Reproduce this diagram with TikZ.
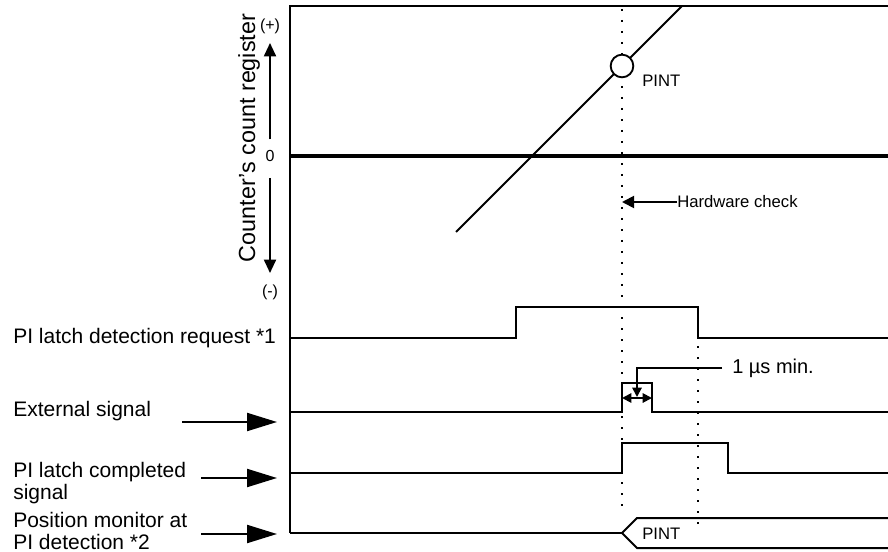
\documentclass[tikz,border=0pt]{standalone}
\usepackage{fontspec}
\setmainfont{Liberation Sans}
\usepackage{tikz}
\usetikzlibrary{arrows.meta}
\usetikzlibrary{positioning}
\newcommand{\lblfont}{\fontsize{15.75}{16.5}\selectfont}
\newcommand{\cntfont}{\fontsize{17.5}{19}\selectfont}
\newcommand{\midfont}{\fontsize{12.5}{14}\selectfont}
\newcommand{\smlfont}{\fontsize{12}{13}\selectfont}
\newcommand{\usfont}{\fontsize{15}{17}\selectfont}

\begin{document}
\begin{tikzpicture}[x=0.75pt,y=-0.75pt,
    sig/.style={line width=1.5pt},
    dotline/.style={line width=2pt,dash pattern=on 1.8pt off 6.45pt},
    lbl/.style={inner sep=0pt,font=\lblfont},
    tag/.style={inner sep=0pt,font=\midfont},
    bigarrow/.style={line width=1.6pt,-{Triangle[length=22.5pt,width=13.5pt]}},
    axarrow/.style={line width=1.4pt,-{Triangle[length=10pt,width=9pt]}},
    smarrow/.style={line width=1.4pt,-{Triangle[length=7pt,width=7pt]}}]
  \useasboundingbox (0,0) rectangle (888,552);
  % frame and zero line
  \draw[line width=1.4pt] (888,6) -- (290,6) -- (290,533);
  \draw[line width=3pt] (290,156) -- (888,156);
  % check instants
  \draw[dotline] (622,9) -- (622,506);
  \draw[dotline] (698,346) -- (698,524);
  % counter value
  \draw[line width=1.4pt] (456,232) -- (682,6);
  \node[circle,draw,fill=white,line width=1.4pt,minimum size=17pt,inner sep=0pt] (pint) at (622,66) {};
  \node[tag,anchor=base west] (pintlbl) at (642,87) {PINT};
  % count register axis
  \node[inner sep=0pt,font=\smlfont] (zero) at (270,156) {0};
  \node[inner sep=0pt,font=\smlfont] (plus) at (270,26) {(+)};
  \node[inner sep=0pt,font=\smlfont] (minus) at (270,292) {(-)};
  \coordinate (ptop) at (270,43);
  \coordinate (pbot) at (270,273);
  \draw[axarrow,shorten <=8pt] (zero) -- (ptop);
  \draw[axarrow,shorten <=12pt] (zero) -- (pbot);
  \node[lbl,font=\cntfont,rotate=90,anchor=base] (cntreg) at (255,138) {Counter's count register};
  % hardware check
  \node[tag,anchor=west] (hwchk) at (677,202) {Hardware check};
  \coordinate (hwpt) at (622,202);
  \draw[line width=1.4pt,-{Triangle[length=9pt,width=9pt]}] (hwchk.west) -- (hwpt);
  % signals
  \draw[sig] (290,338) -- (516,338) -- (516,307) -- (698,307) -- (698,338) -- (888,338);
  \draw[sig] (290,412) -- (622,412) -- (622,383) -- (652,383) -- (652,412) -- (888,412);
  \draw[sig] (290,473) -- (622,473) -- (622,443) -- (728,443) -- (728,473) -- (888,473);
  \draw[sig] (290,533) -- (622,533);
  \draw[sig] (888,518) -- (637,518) -- (622,533) -- (637,548) -- (888,548);
  \node[tag,anchor=base west] (pintbus) at (642,539) {PINT};
  % pulse width
  \coordinate (wl) at (622,398);
  \coordinate (wr) at (652,398);
  \draw[smarrow,{Triangle[length=7pt,width=7pt]}-{Triangle[length=7pt,width=7pt]}] (wl) -- (wr);
  \node[inner sep=0pt,font=\usfont,anchor=base west] (usmin) at (732,373) {1 µs min.};
  \coordinate (ustip) at (637,397);
  \draw[smarrow,shorten <=7.5pt] (usmin.west) -| (ustip);
  % signal names
  \node[lbl,anchor=base west] (reqlbl) at (13,343) {PI latch detection request *1};
  \node[lbl,anchor=base west] (extlbl) at (13,416) {External signal};
  \node[lbl,anchor=north west,align=left] (cmplbl) at (13,462) {PI latch completed\\signal};
  \node[lbl,anchor=north west,align=left] (poslbl) at (13,512) {Position monitor at\\PI detection *2};
  \coordinate (extfrom) at (182,422);
  \coordinate (extto) at (277,422);
  \coordinate (cmpfrom) at (201,478);
  \coordinate (cmpto) at (277,478);
  \coordinate (posfrom) at (201,534);
  \coordinate (posto) at (277,534);
  \draw[bigarrow] (extfrom) -- (extto);
  \draw[bigarrow] (cmpfrom) -- (cmpto);
  \draw[bigarrow] (posfrom) -- (posto);
\end{tikzpicture}
\end{document}
